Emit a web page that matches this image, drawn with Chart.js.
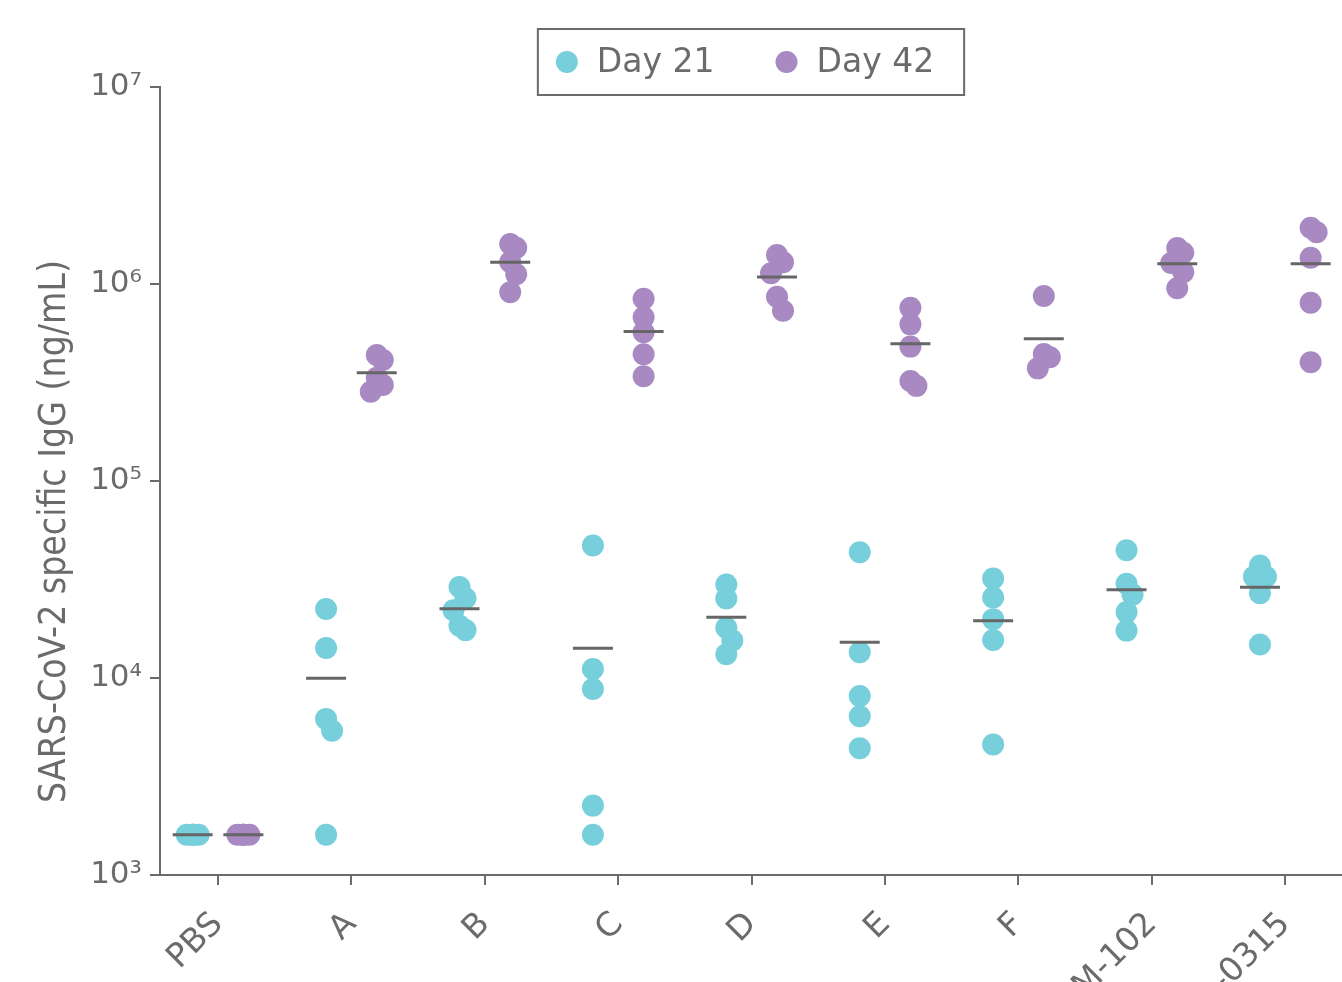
<!DOCTYPE html>
<html>
<head>
<meta charset="utf-8">
<script src="https://cdn.jsdelivr.net/npm/chart.js@4/dist/chart.umd.min.js"></script>
<style>
  html, body { margin: 0; padding: 0; background: #fff; overflow: hidden; }
  #wrap { width: 1342px; height: 982px; position: relative; }
</style>
</head>
<body>
<div id="wrap"><canvas id="c"></canvas></div>
<script>
// Groups along the x axis
const groups = ['PBS', 'A', 'B', 'C', 'D', 'E', 'F', 'M-102', '-0315'];
const seriesNames = ['Day 21', 'Day 42'];
const yTitle = 'SARS-CoV-2 specific IgG (ng/mL)';
const yTickValues = [1e3, 1e4, 1e5, 1e6, 1e7];

// Individual animal titres (ng/mL), one list per group
const day21 = [
  [1600, 1600, 1600, 1600, 1600],
  [22400, 14200, 6200, 5400, 1600],
  [29000, 25400, 22100, 18400, 17500],
  [47000, 11100, 8800, 2250, 1600],
  [29800, 25300, 18000, 15500, 13200],
  [43500, 13500, 8100, 6400, 4400],
  [32000, 25600, 19900, 15600, 4600],
  [44500, 30100, 26500, 21600, 17400],
  [37200, 32700, 32700, 26900, 14800]
];
const day42 = [
  [1600, 1600, 1600, 1600, 1600],
  [436000, 411000, 334000, 307000, 284000],
  [1596000, 1529000, 1292000, 1120000, 908000],
  [842000, 678000, 569000, 440000, 340000],
  [1403000, 1289000, 1133000, 862000, 732000],
  [758000, 624000, 481000, 322000, 304000],
  [869000, 441000, 425000, 373000],
  [1523000, 1441000, 1278000, 1147000, 951000],
  [1931000, 1830000, 1360000, 804000, 401000]
];

const colors = ['#76CFDB', '#A889C2'];
const axisGrey = '#6b6b6b';

// Layout constants for the dot columns (category units / approx px per unit)
const SERIES_SHIFT = 0.19;
const SWARM_STEP = 0.045;
const PX_PER_UNIT = 133.4;
const PX_PER_DECADE = 197;

// Simple deterministic swarm: spread points that would sit on top of each other
function swarm(values, center) {
  const order = values.map((v, i) => i).sort((a, b) => values[b] - values[a]);
  const placed = [];
  const out = new Array(values.length);
  for (const i of order) {
    const ly = Math.log10(values[i]);
    let best = null, bestD = -1;
    for (const k of [0, 1, -1]) {
      const x = center + k * SWARM_STEP;
      let d = Infinity;
      for (const p of placed) {
        const dx = (x - p.x) * PX_PER_UNIT;
        const dy = (ly - p.ly) * PX_PER_DECADE;
        d = Math.min(d, Math.hypot(dx, dy));
      }
      if (d >= 14) { best = x; bestD = d; break; }
      if (d > bestD) { bestD = d; best = x; }
    }
    placed.push({ x: best, ly });
    out[i] = { x: best, y: values[i] };
  }
  return out;
}

function pointsFor(series, shift) {
  return series.flatMap((vals, gi) => swarm(vals, gi + shift));
}
function meansFor(series, shift) {
  return series.map((vals, gi) => ({
    x: gi + shift,
    y: vals.reduce((s, v) => s + v, 0) / vals.length
  }));
}

const SUP = { '0': '\u2070', '1': '\u00B9', '2': '\u00B2', '3': '\u00B3', '4': '\u2074',
              '5': '\u2075', '6': '\u2076', '7': '\u2077', '8': '\u2078', '9': '\u2079' };
const sup = n => String(n).split('').map(c => SUP[c]).join('');

const allSeries = [day21, day42];
const shifts = [-SERIES_SHIFT, SERIES_SHIFT];

const datasets = [];
allSeries.forEach((s, k) => {
  datasets.push({
    label: seriesNames[k] + ' mean',
    data: meansFor(s, shifts[k]),
    pointStyle: 'line',
    pointRadius: 20,
    pointBorderWidth: 3,
    pointBorderColor: '#666666',
    pointBackgroundColor: '#666666',
    showLine: false,
    order: 0
  });
});
allSeries.forEach((s, k) => {
  datasets.push({
    label: seriesNames[k],
    data: pointsFor(s, shifts[k]),
    pointStyle: 'circle',
    pointRadius: 11,
    pointBorderWidth: 0,
    pointBackgroundColor: colors[k],
    pointBorderColor: colors[k],
    showLine: false,
    order: 1
  });
});

// Boxed legend above the plot and the rotated y-axis title
const decor = {
  id: 'decor',
  afterDraw(chart) {
    const ctx = chart.ctx, a = chart.chartArea;
    ctx.save();
    ctx.fillStyle = axisGrey;
    ctx.font = '37px "DejaVu Sans Condensed", "DejaVu Sans"';
    ctx.textAlign = 'center';
    ctx.textBaseline = 'middle';
    ctx.translate(55, (a.top + chart.height) / 2 - 3);
    ctx.rotate(-Math.PI / 2);
    ctx.fillText(yTitle, 0, 0);
    ctx.restore();

    ctx.save();
    ctx.font = '33px "DejaVu Sans"';
    const r = 11, padL = 18, gapT = 19, gapItem = 61, padR = 30;
    const widths = seriesNames.map(t => ctx.measureText(t).width);
    const total = padL + padR + widths.reduce((s, w) => s + 2 * r + gapT + w, 0) + gapItem * (seriesNames.length - 1);
    const cx = (a.left + a.right) / 2;
    const left = cx - total / 2, top = a.top - 58, h = 66;
    ctx.strokeStyle = axisGrey;
    ctx.lineWidth = 2;
    ctx.strokeRect(left, top, total, h);
    let x = left + padL;
    const cy = top + h / 2;
    seriesNames.forEach((t, i) => {
      ctx.beginPath();
      ctx.fillStyle = colors[i];
      ctx.arc(x + r, cy, r, 0, Math.PI * 2);
      ctx.fill();
      x += 2 * r + gapT;
      ctx.fillStyle = axisGrey;
      ctx.textAlign = 'left';
      ctx.textBaseline = 'middle';
      ctx.fillText(t, x, cy + 1);
      x += widths[i] + gapItem;
    });
    ctx.restore();
  }
};

new Chart(document.getElementById('c'), {
  type: 'scatter',
  data: { datasets },
  plugins: [decor],
  options: {
    responsive: true,
    maintainAspectRatio: false,
    animation: false,
    events: [],
    layout: { autoPadding: false, padding: { top: 87, right: 0, bottom: 0, left: 0 } },
    plugins: { legend: { display: false }, tooltip: { enabled: false } },
    scales: {
      x: {
        type: 'linear',
        min: -0.435,
        max: 8.425,
        afterBuildTicks: s => { s.ticks = groups.map((g, i) => ({ value: i })); },
        afterFit: s => { s.height = 107; s.paddingLeft = 0; s.paddingRight = 0; },
        ticks: {
          autoSkip: false,
          maxRotation: 45,
          minRotation: 45,
          padding: 20,
          color: axisGrey,
          font: { family: '"DejaVu Sans"', size: 33 },
          callback: v => groups[v]
        },
        grid: { display: true, drawOnChartArea: false, drawTicks: true, tickLength: 10, color: axisGrey, lineWidth: 2 },
        border: { display: true, color: axisGrey, width: 2 }
      },
      y: {
        type: 'logarithmic',
        min: 1e3,
        max: 1e7,
        afterBuildTicks: s => { s.ticks = yTickValues.map(v => ({ value: v })); },
        afterFit: s => { s.width = 160; },
        ticks: {
          padding: 8,
          color: axisGrey,
          font: { family: '"DejaVu Sans"', size: 31 },
          callback: v => '10' + sup(Math.round(Math.log10(v)))
        },
        grid: { display: true, drawOnChartArea: false, drawTicks: true, tickLength: 10, color: axisGrey, lineWidth: 2 },
        border: { display: true, color: axisGrey, width: 2 }
      }
    }
  }
});
</script>
</body>
</html>
